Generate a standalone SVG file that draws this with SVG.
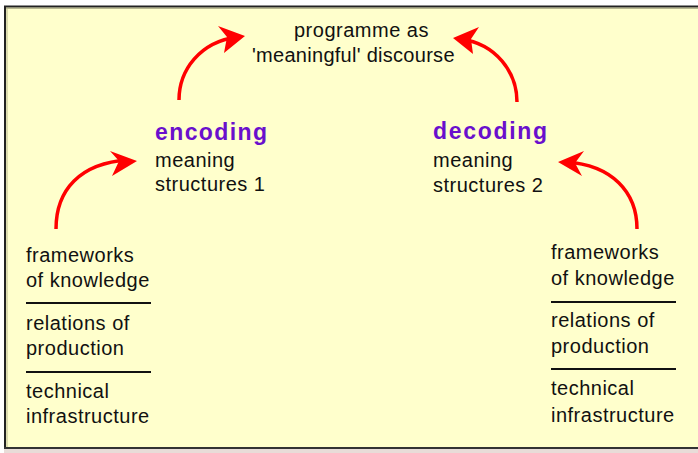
<svg xmlns="http://www.w3.org/2000/svg" width="698" height="453" viewBox="0 0 698 453">
<defs>
<style>
.t{font-family:"Liberation Sans",Arial,sans-serif;font-size:20px;letter-spacing:0.5px;fill:#111}
.h{font-family:"Liberation Sans",Arial,sans-serif;font-size:23px;font-weight:bold;fill:#6A0FCC}
.sep{stroke:#111;stroke-width:2}
.arc{fill:none;stroke:#FF0000;stroke-width:3.5}
.head{fill:#FF0000}
</style>
</defs>
<rect x="0" y="0" width="698" height="453" fill="#FFFFFF"/>
<rect x="5" y="6" width="693" height="443" fill="#FFFFCC"/>
<line x1="4" y1="6.5" x2="698" y2="6.5" stroke="#222" stroke-width="2"/>
<line x1="6" y1="8.5" x2="698" y2="8.5" stroke="#B8B890" stroke-width="1"/>
<line x1="5" y1="6" x2="5" y2="449" stroke="#222" stroke-width="2"/>
<line x1="7" y1="8" x2="7" y2="447" stroke="#B8B890" stroke-width="1"/>
<line x1="4" y1="448" x2="698" y2="448" stroke="#333" stroke-width="2"/>
<rect x="4" y="449" width="694" height="4" fill="#E8DCD8"/>

<g id="programme">
<text class="t" x="294" y="37">programme as</text>
<text class="t" x="252" y="62" textLength="203" lengthAdjust="spacing">'meaningful' discourse</text>
</g>
<g id="encoding">
<text class="h" x="155" y="140" textLength="112" lengthAdjust="spacing">encoding</text>
<text class="t" x="155" y="167">meaning</text>
<text class="t" x="155" y="191">structures 1</text>
</g>
<g id="decoding">
<text class="h" x="433" y="139" textLength="114" lengthAdjust="spacing">decoding</text>
<text class="t" x="433" y="167">meaning</text>
<text class="t" x="433" y="192">structures 2</text>
</g>
<g id="left-base">
<text class="t" x="26" y="262">frameworks</text>
<text class="t" x="26" y="287">of knowledge</text>
<line class="sep" x1="26" y1="303" x2="151" y2="303"/>
<text class="t" x="26" y="330">relations of</text>
<text class="t" x="26" y="355">production</text>
<line class="sep" x1="26" y1="372" x2="151" y2="372"/>
<text class="t" x="26" y="398">technical</text>
<text class="t" x="26" y="423">infrastructure</text>
</g>
<g id="right-base">
<text class="t" x="551" y="259">frameworks</text>
<text class="t" x="551" y="285">of knowledge</text>
<line class="sep" x1="551" y1="302" x2="676" y2="302"/>
<text class="t" x="551" y="327">relations of</text>
<text class="t" x="551" y="353">production</text>
<line class="sep" x1="551" y1="369" x2="676" y2="369"/>
<text class="t" x="551" y="395">technical</text>
<text class="t" x="551" y="422">infrastructure</text>
</g>
<g id="connectors">
<path class="arc" d="M56,229 C56,190 80,163 128,160"/>
<polygon class="head" points="137,161 110,151 119,161 112,176"/>
<path class="arc" d="M179,100 C179,70 200,42 237,37"/>
<polygon class="head" points="245,36 218,26 227,37 224,53"/>
<path class="arc" d="M517,102 C517,72 496,44 461,39"/>
<polygon class="head" points="453,38 479,27 471,39 473,54"/>
<path class="arc" d="M637,229 C637,192 612,165 566,162"/>
<polygon class="head" points="558,162 584,151 575,163 582,176"/>
</g>
</svg>
